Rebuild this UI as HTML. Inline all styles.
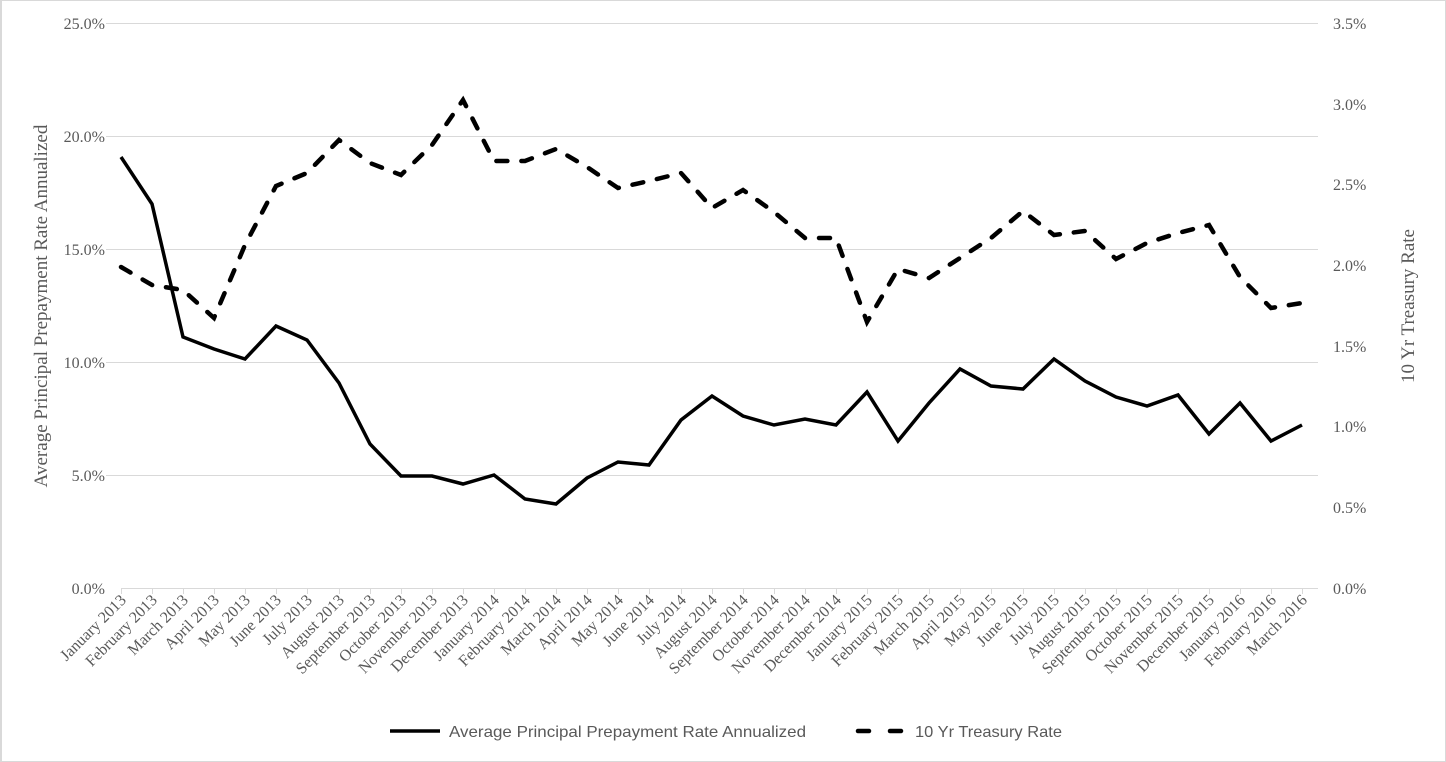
<!DOCTYPE html>
<html><head><meta charset="utf-8"><style>body{margin:0;background:#fff}svg{display:block}</style></head><body>
<svg width="1446" height="762" xmlns="http://www.w3.org/2000/svg">
<rect x="0.5" y="0.5" width="1445" height="761" fill="#fff" stroke="#d9d9d9"/>
<line x1="1" y1="0" x2="1" y2="762" stroke="#d9d9d9" stroke-width="2"/>
<g stroke="#d9d9d9" stroke-width="1">
<line x1="106" y1="23.5" x2="1318" y2="23.5"/>
<line x1="106" y1="136.5" x2="1318" y2="136.5"/>
<line x1="106" y1="249.5" x2="1318" y2="249.5"/>
<line x1="106" y1="362.5" x2="1318" y2="362.5"/>
<line x1="106" y1="475.5" x2="1318" y2="475.5"/>
<line x1="121" y1="588.5" x2="1318" y2="588.5"/>
</g>
<g stroke="#d9d9d9" stroke-width="1" id="ticks">
<path d="M121.5 588v6M152.5 588v6M183.5 588v6M214.5 588v6M245.5 588v6M276.5 588v6M307.5 588v6M339.5 588v6M370.5 588v6M401.5 588v6M432.5 588v6M463.5 588v6M494.5 588v6M525.5 588v6M556.5 588v6M587.5 588v6M618.5 588v6M649.5 588v6M681.5 588v6M712.5 588v6M743.5 588v6M774.5 588v6M805.5 588v6M836.5 588v6M867.5 588v6M898.5 588v6M929.5 588v6M960.5 588v6M991.5 588v6M1023.5 588v6M1054.5 588v6M1085.5 588v6M1116.5 588v6M1147.5 588v6M1178.5 588v6M1209.5 588v6M1240.5 588v6M1271.5 588v6M1302.5 588v6"/>
</g>
<g font-family="Liberation Serif, serif" font-size="16" fill="#595959" text-anchor="end">
<text x="105" y="29">25.0%</text><text x="105" y="142">20.0%</text><text x="105" y="255">15.0%</text>
<text x="105" y="368">10.0%</text><text x="105" y="481">5.0%</text><text x="105" y="594">0.0%</text>
</g>
<g font-family="Liberation Serif, serif" font-size="16" fill="#595959" text-anchor="start">
<text x="1333" y="29">3.5%</text><text x="1333" y="110">3.0%</text><text x="1333" y="190">2.5%</text>
<text x="1333" y="271">2.0%</text><text x="1333" y="352">1.5%</text><text x="1333" y="432">1.0%</text>
<text x="1333" y="513">0.5%</text><text x="1333" y="594">0.0%</text>
</g>
<text transform="translate(47,306) rotate(-90)" font-family="Liberation Serif, serif" font-size="19" fill="#595959" text-anchor="middle">Average Principal Prepayment Rate Annualized</text>
<text transform="translate(1414,306) rotate(-90)" font-family="Liberation Serif, serif" font-size="19" fill="#595959" text-anchor="middle">10 Yr Treasury Rate</text>
<polyline fill="none" stroke="#000" stroke-width="3.5" stroke-linejoin="miter" points="121,157 152,204 183,337 214,349 245,359 276,326 307,340 339,383 370,444 401,476 432,476 463,484 494,475 525,499 556,504 587,478 618,462 649,465 681,420 712,396 743,416 774,425 805,419 836,425 867,392 898,441 929,403 960,369 991,386 1023,389 1054,359 1085,381 1116,397 1147,406 1178,395 1209,434 1240,403 1271,441 1302,425"/>
<polyline fill="none" stroke="#000" stroke-width="4.5" stroke-linecap="round" stroke-dasharray="11 14" points="121,267 152,285 183,290 214,318 245,245 276,186 307,173 339,140 370,163 401,175 432,145 463,100 494,161 525,161 556,149 587,167 618,188 649,181 681,173 712,208 743,190 774,212 805,238 836,238 867,322 898,269 929,278 960,258 991,238 1023,211 1054,235 1085,231 1116,259 1147,243 1178,233 1209,225 1240,277 1271,308 1302,303"/>
<line x1="390" y1="731" x2="440" y2="731" stroke="#000" stroke-width="3.5"/>
<text x="449" y="737" font-family="Liberation Sans, sans-serif" font-size="16" fill="#595959" textLength="357" lengthAdjust="spacingAndGlyphs">Average Principal Prepayment Rate Annualized</text>
<line x1="858" y1="731" x2="869" y2="731" stroke="#000" stroke-width="4.5" stroke-linecap="round"/>
<line x1="890" y1="731" x2="901" y2="731" stroke="#000" stroke-width="4.5" stroke-linecap="round"/>
<text x="915" y="737" font-family="Liberation Sans, sans-serif" font-size="16" fill="#595959" textLength="147" lengthAdjust="spacingAndGlyphs">10 Yr Treasury Rate</text>
<g font-family="Liberation Serif, serif" font-size="16" fill="#595959" text-anchor="end">
<text transform="translate(127,601) rotate(-45)">January 2013</text>
<text transform="translate(158,601) rotate(-45)">February 2013</text>
<text transform="translate(189,601) rotate(-45)">March 2013</text>
<text transform="translate(220,601) rotate(-45)">April 2013</text>
<text transform="translate(251,601) rotate(-45)">May 2013</text>
<text transform="translate(282,601) rotate(-45)">June 2013</text>
<text transform="translate(313,601) rotate(-45)">July 2013</text>
<text transform="translate(345,601) rotate(-45)">August 2013</text>
<text transform="translate(376,601) rotate(-45)">September 2013</text>
<text transform="translate(407,601) rotate(-45)">October 2013</text>
<text transform="translate(438,601) rotate(-45)">November 2013</text>
<text transform="translate(469,601) rotate(-45)">December 2013</text>
<text transform="translate(500,601) rotate(-45)">January 2014</text>
<text transform="translate(531,601) rotate(-45)">February 2014</text>
<text transform="translate(562,601) rotate(-45)">March 2014</text>
<text transform="translate(593,601) rotate(-45)">April 2014</text>
<text transform="translate(624,601) rotate(-45)">May 2014</text>
<text transform="translate(655,601) rotate(-45)">June 2014</text>
<text transform="translate(687,601) rotate(-45)">July 2014</text>
<text transform="translate(718,601) rotate(-45)">August 2014</text>
<text transform="translate(749,601) rotate(-45)">September 2014</text>
<text transform="translate(780,601) rotate(-45)">October 2014</text>
<text transform="translate(811,601) rotate(-45)">November 2014</text>
<text transform="translate(842,601) rotate(-45)">December 2014</text>
<text transform="translate(873,601) rotate(-45)">January 2015</text>
<text transform="translate(904,601) rotate(-45)">February 2015</text>
<text transform="translate(935,601) rotate(-45)">March 2015</text>
<text transform="translate(966,601) rotate(-45)">April 2015</text>
<text transform="translate(997,601) rotate(-45)">May 2015</text>
<text transform="translate(1029,601) rotate(-45)">June 2015</text>
<text transform="translate(1060,601) rotate(-45)">July 2015</text>
<text transform="translate(1091,601) rotate(-45)">August 2015</text>
<text transform="translate(1122,601) rotate(-45)">September 2015</text>
<text transform="translate(1153,601) rotate(-45)">October 2015</text>
<text transform="translate(1184,601) rotate(-45)">November 2015</text>
<text transform="translate(1215,601) rotate(-45)">December 2015</text>
<text transform="translate(1246,601) rotate(-45)">January 2016</text>
<text transform="translate(1277,601) rotate(-45)">February 2016</text>
<text transform="translate(1308,601) rotate(-45)">March 2016</text>
</g>
</svg>
</body></html>
